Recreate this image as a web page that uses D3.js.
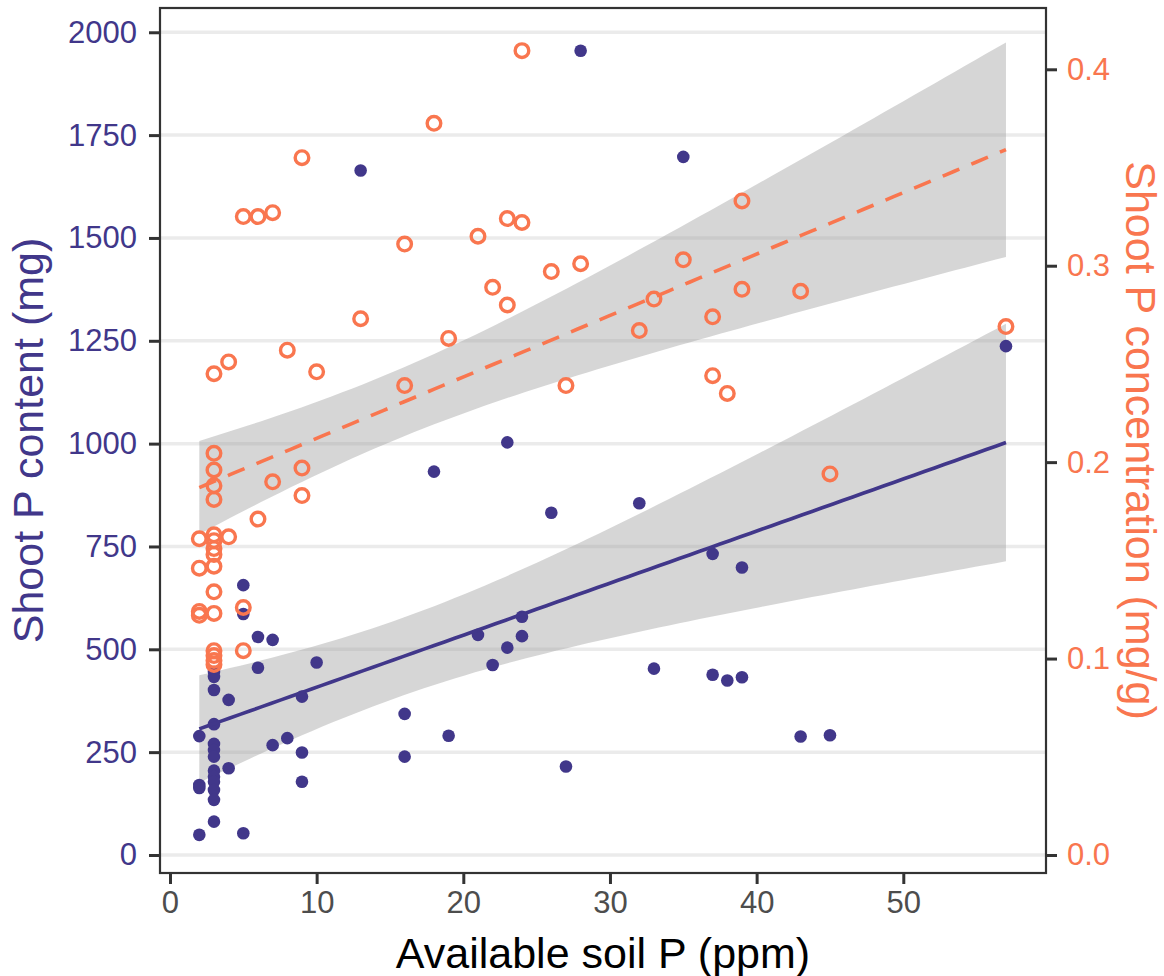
<!DOCTYPE html>
<html>
<head>
<meta charset="utf-8">
<script src="https://cdn.jsdelivr.net/npm/d3@7"></script>
<style>
  html, body { margin: 0; padding: 0; background: #fff; }
  svg { display: block; font-family: Arial, "Liberation Sans", sans-serif; }
</style>
</head>
<body>
<svg id="chart" width="1164" height="976"></svg>
<script>
// ---------- data ----------
// Shoot P content (mg) vs available soil P (ppm)
const contentX = [2,2,2,2,
  3,3,3,3,3,3,3,3,3,3,3,3,3,
  4,4, 5,5,5, 6,6, 7,7, 8, 9,9,9, 10, 13, 16,16, 18, 19, 21, 22, 23,23, 24,24,
  26, 27, 28, 32, 33, 35, 37,37, 38, 39,39, 43, 45, 57];
const contentY = [289,170,163,49,
  445,433,401,318,270,255,239,205,190,178,158,134,81,
  377,211, 656,586,53, 530,455, 523,267, 284, 385,249,178, 468, 1664, 343,239, 932, 290, 535, 462, 1003,504, 579,532,
  832, 215, 1955, 855, 453, 1697, 732,438, 424, 699,432, 288, 291, 1237];

// Shoot P concentration (mg/g) vs available soil P (ppm)
const concX = [2,2,2,2,
  3,3,3,3,3,3,3,3,3,3,3,3,3,3,3,3,
  4,4, 5,5,5, 6,6, 7,7, 8, 9,9,9, 10, 13, 16,16, 18, 19, 21, 22, 23,23, 24,24,
  26, 27, 28, 32, 33, 35, 37,37, 38, 39,39, 43, 45, 57];
const concY = [0.161,0.146,0.124,0.122,
  0.245,0.2045,0.196,0.188,0.181,0.163,0.160,0.156,0.153,0.147,0.134,0.123,0.104,0.1015,0.099,0.097,
  0.251,0.162, 0.325,0.126,0.104, 0.325,0.171, 0.327,0.190, 0.257, 0.355,0.197,0.183, 0.246, 0.273, 0.311,0.239, 0.3725, 0.263, 0.315, 0.289, 0.324,0.280, 0.4095,0.322,
  0.297, 0.239, 0.301, 0.267, 0.283, 0.303, 0.274,0.244, 0.235, 0.333,0.288, 0.287, 0.194, 0.269];

const xTicks = [0,10,20,30,40,50];
const leftTicks = [0,250,500,750,1000,1250,1500,1750,2000];
const rightTicks = [0.0,0.1,0.2,0.3,0.4];

const xDomain = [-0.68, 59.73];
const leftDomain = [-43.8, 2059];
const concPerContent = 1/4775;   // secondary axis ratio

const purple = "#41378A";
const coral = "#F9764F";

// ---------- layout ----------
const svg = d3.select("#chart");
const P = {left:160, right:1046, top:8, bottom:873};

const x = d3.scaleLinear().domain(xDomain).range([P.left, P.right]);
const yL = d3.scaleLinear().domain(leftDomain).range([P.bottom, P.top]);
const yR = d3.scaleLinear().domain(leftDomain.map(v => v*concPerContent)).range([P.bottom, P.top]);

// ---------- linear fit with 95% CI (like geom_smooth(method = "lm")) ----------
function tq975(df){
  const z = 1.959964;
  return z + (z**3+z)/(4*df) + (5*z**5+16*z**3+3*z)/(96*df*df) + (3*z**7+19*z**5+17*z**3-15*z)/(384*df**3);
}
function lmFit(xs, ys){
  const n = xs.length;
  const mx = d3.mean(xs), my = d3.mean(ys);
  let sxx=0, sxy=0;
  for(let i=0;i<n;i++){ sxx += (xs[i]-mx)**2; sxy += (xs[i]-mx)*(ys[i]-my); }
  const b = sxy/sxx, a = my - b*mx;
  let sse=0;
  for(let i=0;i<n;i++){ sse += (ys[i]-a-b*xs[i])**2; }
  const s = Math.sqrt(sse/(n-2));
  const t = tq975(n-2);
  const [x0,x1] = d3.extent(xs);
  return d3.range(80).map(k => {
    const xv = x0 + (x1-x0)*k/79;
    const fit = a + b*xv;
    const se = s*Math.sqrt(1/n + (xv-mx)**2/sxx);
    return {x:xv, fit, lo:fit - t*se, hi:fit + t*se};
  });
}
const fitContent = lmFit(contentX, contentY);
const fitConc = lmFit(concX, concY);

// ---------- gridlines ----------
svg.append("g").selectAll("line").data(leftTicks).join("line")
  .attr("x1", P.left).attr("x2", P.right)
  .attr("y1", d => yL(d)).attr("y2", d => yL(d))
  .attr("stroke", "#EBEBEB").attr("stroke-width", 3.5);

// ---------- ribbons ----------
const areaL = d3.area().x(d => x(d.x)).y0(d => yL(d.lo)).y1(d => yL(d.hi));
const areaR = d3.area().x(d => x(d.x)).y0(d => yR(d.lo)).y1(d => yR(d.hi));
svg.append("path").datum(fitContent).attr("d", areaL).attr("fill", "#999999").attr("fill-opacity", 0.4);
svg.append("path").datum(fitConc).attr("d", areaR).attr("fill", "#999999").attr("fill-opacity", 0.4);

// ---------- points ----------
svg.append("g").selectAll("circle").data(contentX.map((d,i)=>[d, contentY[i]])).join("circle")
  .attr("cx", d => x(d[0])).attr("cy", d => yL(d[1])).attr("r", 6.3)
  .attr("fill", purple);

svg.append("g").selectAll("circle").data(concX.map((d,i)=>[d, concY[i]])).join("circle")
  .attr("cx", d => x(d[0])).attr("cy", d => yR(d[1])).attr("r", 6.8)
  .attr("fill", "none").attr("stroke", coral).attr("stroke-width", 3.4);

// ---------- fit lines ----------
svg.append("path").datum(fitContent)
  .attr("d", d3.line().x(d => x(d.x)).y(d => yL(d.fit)))
  .attr("fill", "none").attr("stroke", purple).attr("stroke-width", 3.6);
svg.append("path").datum(fitConc)
  .attr("d", d3.line().x(d => x(d.x)).y(d => yR(d.fit)))
  .attr("fill", "none").attr("stroke", coral).attr("stroke-width", 3.6)
  .attr("stroke-dasharray", "18,13");

// ---------- panel border ----------
svg.append("rect").attr("x", P.left).attr("y", P.top)
  .attr("width", P.right-P.left).attr("height", P.bottom-P.top)
  .attr("fill", "none").attr("stroke", "#333333").attr("stroke-width", 2.2);

// ---------- axes ----------
const axB = svg.append("g").attr("transform", `translate(0,${P.bottom})`)
  .call(d3.axisBottom(x).tickValues(xTicks).tickFormat(d3.format("d")).tickSize(11).tickPadding(7));
const axL = svg.append("g").attr("transform", `translate(${P.left},0)`)
  .call(d3.axisLeft(yL).tickValues(leftTicks).tickFormat(d3.format("d")).tickSize(11).tickPadding(12));
const axR = svg.append("g").attr("transform", `translate(${P.right},0)`)
  .call(d3.axisRight(yR).tickValues(rightTicks).tickFormat(d3.format(".1f")).tickSize(11).tickPadding(10));

[axB, axL, axR].forEach(g => {
  g.select(".domain").remove();
  g.selectAll(".tick line").attr("stroke", "#333333").attr("stroke-width", 3);
  g.selectAll(".tick text").attr("font-size", 31).attr("font-family", "Arial, 'Liberation Sans', sans-serif");
});
axB.selectAll(".tick text").attr("fill", "#4D4D4D");
axL.selectAll(".tick text").attr("fill", purple);
axR.selectAll(".tick text").attr("fill", coral);

// ---------- titles ----------
svg.append("text").attr("x", (P.left+P.right)/2).attr("y", 968)
  .attr("text-anchor", "middle").attr("font-size", 43).attr("fill", "#000")
  .text("Available soil P (ppm)");
svg.append("text")
  .attr("transform", `translate(43,${(P.top+P.bottom)/2}) rotate(-90)`)
  .attr("text-anchor", "middle").attr("font-size", 43).attr("fill", purple)
  .text("Shoot P content (mg)");
svg.append("text")
  .attr("transform", `translate(1126,${(P.top+P.bottom)/2}) rotate(90)`)
  .attr("text-anchor", "middle").attr("font-size", 43).attr("fill", coral)
  .text("Shoot P concentration (mg/g)");
</script>
</body>
</html>
